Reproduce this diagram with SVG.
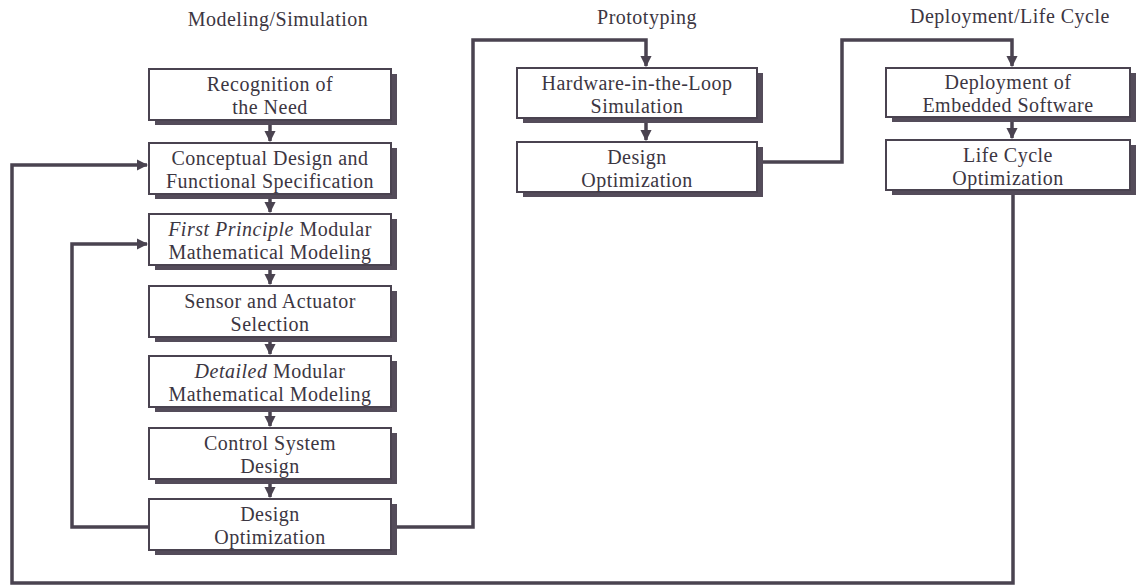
<svg xmlns="http://www.w3.org/2000/svg" width="1139" height="587" viewBox="0 0 1139 587">
<defs>
<style>
.box{fill:#fff;stroke:#4a4350;stroke-width:2}
.sh{fill:#544c5a}
.t{font-family:"Liberation Serif","Times New Roman",serif;font-size:20px;fill:#3c3642;text-anchor:middle;letter-spacing:0.5px}
.h{font-family:"Liberation Serif","Times New Roman",serif;font-size:20px;fill:#3c3642;text-anchor:middle;letter-spacing:0.5px}
.c{fill:none;stroke:#4a4350;stroke-width:3.5;stroke-linejoin:miter}
</style>
<marker id="ah" viewBox="0 0 10 10" refX="9" refY="5" markerWidth="3.2" markerHeight="3.2" orient="auto" markerUnits="strokeWidth">
<path d="M0,0 L10,5 L0,10 z" fill="#4a4350"/>
</marker>
</defs>
<rect width="1139" height="587" fill="#fff"/>
<g id="headers">
<text class="h" x="278" y="26">Modeling/Simulation</text>
<text class="h" x="647" y="24">Prototyping</text>
<text class="h" x="1010" y="23">Deployment/Life Cycle</text>
</g>
<g id="connectors">
<path class="c" d="M270,124 V141" marker-end="url(#ah)"/>
<path class="c" d="M270,197 V212" marker-end="url(#ah)"/>
<path class="c" d="M270,268 V284" marker-end="url(#ah)"/>
<path class="c" d="M270,340 V354" marker-end="url(#ah)"/>
<path class="c" d="M270,410 V426" marker-end="url(#ah)"/>
<path class="c" d="M270,482 V497" marker-end="url(#ah)"/>
<path class="c" d="M646,122 V140" marker-end="url(#ah)"/>
<path class="c" d="M1012,121 V138" marker-end="url(#ah)"/>
<path class="c" d="M396,527 H473 V40 H646 V66" marker-end="url(#ah)"/>
<path class="c" d="M762,162 H842 V40 H1012 V66" marker-end="url(#ah)"/>
<path class="c" d="M149,527 H72 V244 H147" marker-end="url(#ah)"/>
<path class="c" d="M1013,195 V583 H12 V165 H147" marker-end="url(#ah)"/>
</g>
<g id="n1">
<rect class="sh" x="155" y="74" width="242" height="51"/>
<rect class="box" x="149" y="69" width="242" height="51"/>
<text class="t" x="270" y="91">Recognition of</text>
<text class="t" x="270" y="114">the Need</text>
</g>
<g id="n2">
<rect class="sh" x="155" y="148" width="242" height="51"/>
<rect class="box" x="149" y="143" width="242" height="51"/>
<text class="t" x="270" y="165">Conceptual Design and</text>
<text class="t" x="270" y="188">Functional Specification</text>
</g>
<g id="n3">
<rect class="sh" x="155" y="219" width="242" height="51"/>
<rect class="box" x="149" y="214" width="242" height="51"/>
<text class="t" x="270" y="236"><tspan font-style="italic">First Principle</tspan> Modular</text>
<text class="t" x="270" y="259">Mathematical Modeling</text>
</g>
<g id="n4">
<rect class="sh" x="155" y="291" width="242" height="51"/>
<rect class="box" x="149" y="286" width="242" height="51"/>
<text class="t" x="270" y="308">Sensor and Actuator</text>
<text class="t" x="270" y="331">Selection</text>
</g>
<g id="n5">
<rect class="sh" x="155" y="361" width="242" height="51"/>
<rect class="box" x="149" y="356" width="242" height="51"/>
<text class="t" x="270" y="378"><tspan font-style="italic">Detailed</tspan> Modular</text>
<text class="t" x="270" y="401">Mathematical Modeling</text>
</g>
<g id="n6">
<rect class="sh" x="155" y="433" width="242" height="51"/>
<rect class="box" x="149" y="428" width="242" height="51"/>
<text class="t" x="270" y="450">Control System</text>
<text class="t" x="270" y="473">Design</text>
</g>
<g id="n7">
<rect class="sh" x="155" y="504" width="242" height="51"/>
<rect class="box" x="149" y="499" width="242" height="51"/>
<text class="t" x="270" y="521">Design</text>
<text class="t" x="270" y="544">Optimization</text>
</g>
<g id="p1">
<rect class="sh" x="523" y="73" width="240" height="50"/>
<rect class="box" x="517" y="68" width="240" height="50"/>
<text class="t" x="637" y="90">Hardware-in-the-Loop</text>
<text class="t" x="637" y="113">Simulation</text>
</g>
<g id="p2">
<rect class="sh" x="523" y="147" width="240" height="50"/>
<rect class="box" x="517" y="142" width="240" height="50"/>
<text class="t" x="637" y="164">Design</text>
<text class="t" x="637" y="187">Optimization</text>
</g>
<g id="d1">
<rect class="sh" x="892" y="73" width="244" height="49"/>
<rect class="box" x="886" y="68" width="244" height="49"/>
<text class="t" x="1008" y="89">Deployment of</text>
<text class="t" x="1008" y="112">Embedded Software</text>
</g>
<g id="d2">
<rect class="sh" x="892" y="145" width="244" height="50"/>
<rect class="box" x="886" y="140" width="244" height="50"/>
<text class="t" x="1008" y="162">Life Cycle</text>
<text class="t" x="1008" y="185">Optimization</text>
</g>
</svg>
